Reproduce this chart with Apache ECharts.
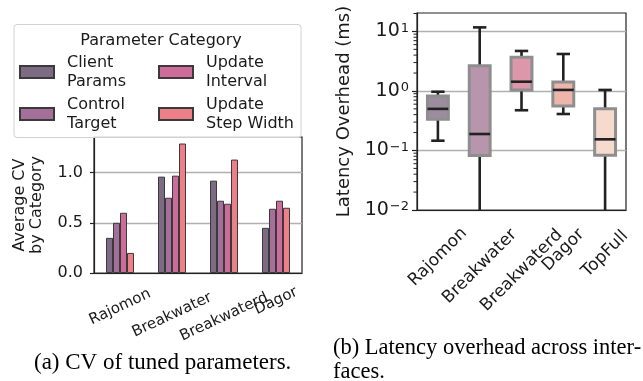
<!DOCTYPE html>
<html>
<head>
<meta charset="utf-8">
<script src="https://cdn.jsdelivr.net/npm/echarts@6/dist/echarts.min.js"></script>
<style>
html, body { margin: 0; padding: 0; background: #fff; }
#chart { width: 643px; height: 381px; }
</style>
</head>
<body>
<div id="chart"></div>
<script>
"use strict";

// (a) average CV of tuned parameters, per category
var cvSystems = ['Rajomon', 'Breakwater', 'Breakwaterd', 'Dagor'];
var clientParams = [0.35, 0.96, 0.92, 0.45];
var controlTarget = [0.50, 0.75, 0.72, 0.64];
var updateInterval = [0.60, 0.97, 0.69, 0.72];
var updateStepWidth = [0.20, 1.29, 1.13, 0.65];
var cvTicks = [0, 0.5, 1.0];

// (b) latency overhead in ms: [whisker low, q1, median, q3, whisker high]
var latSystems = ['Rajomon', 'Breakwater', 'Breakwaterd', 'Dagor', 'TopFull'];
var latRajomon = [0.146, 0.334, 0.50, 0.82, 0.97];
var latBreakwater = [0.004, 0.082, 0.189, 2.66, 11.7];
var latBreakwaterd = [0.474, 1.04, 1.43, 3.68, 4.7];
var latDagor = [0.41, 0.56, 1.04, 1.42, 4.18];
var latTopFull = [0.004, 0.083, 0.154, 0.50, 1.04];
var latMajorTicks = [0.01, 0.1, 1, 10];
var latMinorTicks = [0.02, 0.03, 0.04, 0.05, 0.06, 0.07, 0.08, 0.09,
                     0.2, 0.3, 0.4, 0.5, 0.6, 0.7, 0.8, 0.9,
                     2, 3, 4, 5, 6, 7, 8, 9, 20];

var barColors = ['#7d6b84', '#a47099', '#cd6c9b', '#ec7f88'];
var boxColors = ['#9d8ba0', '#b994ad', '#dc98aa', '#eeb5ab', '#f5dacd'];
var sans = 'DejaVu Sans';
var ink = '#1a1a1a';

// rotated tick labels hang from their top edge (like matplotlib), so long names sit lower
var cvLabelDrop = [6, 14, 16, 0];
var latLabelDrop = [7, 16.5, 20.5, 0, 4];

var latRows = [latRajomon, latBreakwater, latBreakwaterd, latDagor, latTopFull]
  .map(function (r, i) { return [i].concat(r); });

function supLabel(v) {
  var e = Math.round(Math.log10(v));
  return '{b|10}{s|' + String(e).replace('-', '\u2212') + '}';
}

function renderBox(params, api) {
  var i = api.value(0);
  var lo = api.coord([i, api.value(1)]);
  var q1 = api.coord([i, api.value(2)]);
  var med = api.coord([i, api.value(3)]);
  var q3 = api.coord([i, api.value(4)]);
  var hi = api.coord([i, api.value(5)]);
  var band = params.coordSys.width / latSystems.length;
  var half = band * 0.25, cap = band * 0.16;
  var x = q1[0];
  var black = { stroke: '#222', lineWidth: 2.6 };
  return {
    type: 'group',
    children: [
      { type: 'line', shape: { x1: x, y1: lo[1], x2: x, y2: q1[1] }, style: black },
      { type: 'line', shape: { x1: x, y1: q3[1], x2: x, y2: hi[1] }, style: black },
      { type: 'line', shape: { x1: x - cap, y1: lo[1], x2: x + cap, y2: lo[1] }, style: black },
      { type: 'line', shape: { x1: x - cap, y1: hi[1], x2: x + cap, y2: hi[1] }, style: black },
      { type: 'rect', shape: { x: x - half, y: q3[1], width: half * 2, height: q1[1] - q3[1] },
        style: { fill: boxColors[i], stroke: '#8e8e8e', lineWidth: 3 } },
      { type: 'line', shape: { x1: x - half, y1: med[1], x2: x + half, y2: med[1] }, style: black }
    ]
  };
}

// minor ticks of the log axis, placed with the axis scale
function renderMinorTick(params, api) {
  var p = api.coord([0, api.value(1)]);
  var x0 = params.coordSys.x;
  return { type: 'line', shape: { x1: x0 - 3.5, y1: p[1], x2: x0, y2: p[1] },
    style: { stroke: '#222', lineWidth: 1 } };
}

function barSeries(name, data, color) {
  return {
    name: name,
    type: 'bar',
    xAxisIndex: 0,
    yAxisIndex: 0,
    data: data,
    barWidth: 7,
    barGap: '0%',
    itemStyle: { color: color, borderColor: '#3a3a3a', borderWidth: 1 }
  };
}

var legendText = { fontFamily: sans, fontSize: 16, color: ink, lineHeight: 19, padding: [0, 0, 0, 8] };

var option = {
  animation: false,
  title: [
    { text: 'Parameter Category', left: 156, top: 28, textAlign: 'center',
      textStyle: { fontFamily: sans, fontSize: 16, fontWeight: 'normal', color: ink } },
    { text: '(a) CV of tuned parameters.', left: 29, top: 346,
      textStyle: { fontFamily: 'Liberation Serif', fontSize: 23, fontWeight: 'normal', color: '#000' } },
    { text: '(b) Latency overhead across inter-\nfaces.', left: 328, top: 331,
      textStyle: { fontFamily: 'Liberation Serif', fontSize: 22.5, fontWeight: 'normal', color: '#000', lineHeight: 24 } }
  ],
  graphic: [
    { id: 'legendBox', type: 'rect', left: 13.5, top: 24, shape: { width: 287, height: 113, r: 3 },
      style: { fill: 'rgba(255,255,255,0.8)', stroke: '#d0d0d0', lineWidth: 1 }, z: 1 }
  ],
  legend: [
    { data: ['Client\nParams', 'Control\nTarget'], orient: 'vertical', left: 19, top: 53,
      itemWidth: 34, itemHeight: 12, itemGap: 4, padding: 0, textStyle: legendText, icon: 'rect', z: 5 },
    { data: ['Update\nInterval', 'Update\nStep Width'], orient: 'vertical', left: 158, top: 53,
      itemWidth: 34, itemHeight: 12, itemGap: 4, padding: 0, textStyle: legendText, icon: 'rect', z: 5 }
  ],
  grid: [
    { left: 94, right: 341, top: 137, bottom: 108, show: true, borderColor: '#222', borderWidth: 1.2 },
    { left: 417, right: 17, top: 13, bottom: 171, show: true, borderColor: '#222', borderWidth: 1.2 }
  ],
  xAxis: [
    { type: 'category', gridIndex: 0, data: cvSystems,
      axisLine: { lineStyle: { color: '#222', width: 1.2 } },
      axisTick: { alignWithLabel: true, length: 4, lineStyle: { color: '#222', width: 1.2 } },
      axisLabel: { show: false } },
    { type: 'category', gridIndex: 1, data: latSystems,
      axisLine: { lineStyle: { color: '#222', width: 1.2 } },
      axisTick: { alignWithLabel: true, length: 5, lineStyle: { color: '#222', width: 1.2 } },
      axisLabel: { show: false } }
  ],
  yAxis: [
    { type: 'value', gridIndex: 0, min: 0, max: 1.355, interval: 0.5,
      name: 'Average CV\nby Category', nameLocation: 'middle', nameGap: 49,
      nameTextStyle: { fontFamily: sans, fontSize: 16, color: ink, lineHeight: 17 },
      axisLine: { show: true, lineStyle: { color: '#222', width: 1.2 } },
      axisTick: { show: true, length: 4, customValues: cvTicks, lineStyle: { color: '#222', width: 1.2 } },
      axisLabel: { customValues: cvTicks, margin: 11, fontFamily: sans, fontSize: 16, color: ink,
        formatter: function (v) { return v.toFixed(1); } },
      splitLine: { lineStyle: { color: '#b0b0b0', width: 1.3 } } },
    { type: 'log', gridIndex: 1, logBase: 10, min: 0.01, max: 20.4,
      name: 'Latency Overhead (ms)', nameLocation: 'middle', nameGap: 64,
      nameTextStyle: { fontFamily: sans, fontSize: 18, color: ink },
      axisLine: { show: true, lineStyle: { color: '#222', width: 1.2 } },
      axisTick: { show: true, length: 5, customValues: latMajorTicks, lineStyle: { color: '#222', width: 1.2 } },
      axisLabel: { customValues: latMajorTicks, margin: 8, color: ink, formatter: supLabel,
        rich: { b: { fontFamily: sans, fontSize: 19, color: ink, lineHeight: 19, verticalAlign: 'bottom' },
                s: { fontFamily: sans, fontSize: 13, color: ink, lineHeight: 19, verticalAlign: 'top', padding: [0, 0, 6, 1] } } },
      splitLine: { lineStyle: { color: '#b0b0b0', width: 1.3 } } }
  ],
  series: [
    barSeries('Client\nParams', clientParams, barColors[0]),
    barSeries('Control\nTarget', controlTarget, barColors[1]),
    barSeries('Update\nInterval', updateInterval, barColors[2]),
    barSeries('Update\nStep Width', updateStepWidth, barColors[3]),
    { type: 'custom', name: 'Latency', xAxisIndex: 1, yAxisIndex: 1, clip: true,
      data: latRows, encode: { x: 0, y: [1, 2, 3, 4, 5] }, renderItem: renderBox, z: 3 },
    { type: 'custom', name: 'minor', xAxisIndex: 1, yAxisIndex: 1, clip: false, silent: true,
      data: latMinorTicks.map(function (v) { return [0, v]; }),
      encode: { x: 0, y: 1 }, renderItem: renderMinorTick, z: 4 }
  ]
};

var chart = echarts.init(document.getElementById('chart'));
chart.setOption(option);

// category tick labels: rotated text centred on each tick, placed with the axes' own scales
function tickLabels(prefix, xIdx, yIdx, names, bottomVal, deg, size, gap, drops) {
  return names.map(function (name, i) {
    var p = chart.convertToPixel({ xAxisIndex: xIdx, yAxisIndex: yIdx }, [i, bottomVal]);
    return {
      id: prefix + i, type: 'text', x: p[0], y: p[1] + gap + drops[i],
      rotation: deg * Math.PI / 180, z: 10,
      style: { text: name, fontFamily: sans, fontSize: size, fill: ink,
        align: 'center', verticalAlign: 'middle' }
    };
  });
}

chart.setOption({
  graphic: tickLabels('cvl', 0, 0, cvSystems, 0, 25, 15, 28, cvLabelDrop)
    .concat(tickLabels('latl', 1, 1, latSystems, 0.01, 45, 17, 40, latLabelDrop))
});
</script>
</body>
</html>
